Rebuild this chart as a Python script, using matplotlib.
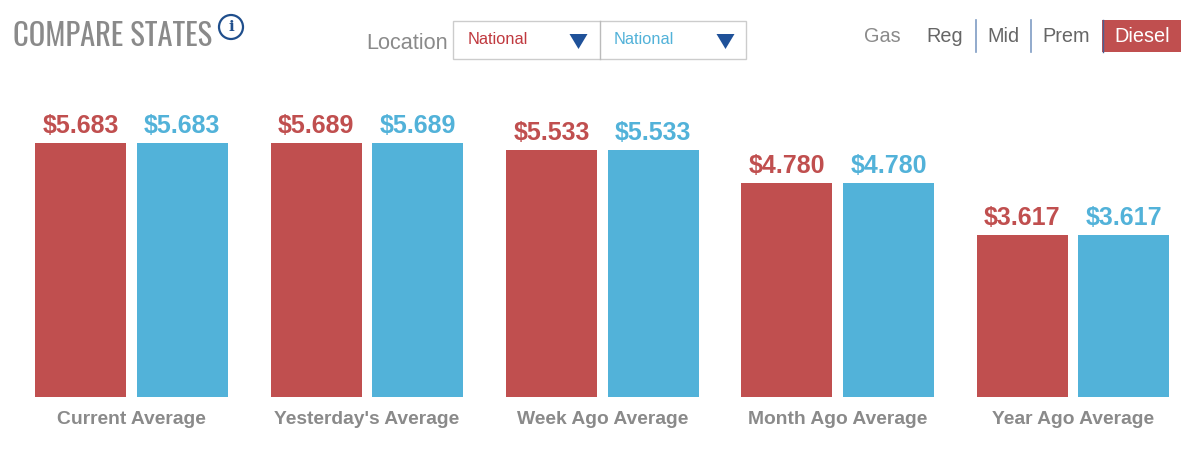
import numpy as np
import matplotlib.pyplot as plt
from matplotlib.patches import Rectangle, Polygon, Circle

plt.rcParams['font.family'] = ['Liberation Sans', 'DejaVu Sans']

categories = ["Current Average", "Yesterday's Average", "Week Ago Average", "Month Ago Average", "Year Ago Average"]
left_values = [5.683, 5.689, 5.533, 4.780, 3.617]
right_values = [5.683, 5.689, 5.533, 4.780, 3.617]
fuel_labels = ["Gas", "Reg", "Mid", "Prem", "Diesel"]

RED = "#C04F4F"
BLUE = "#52B2D9"
GREY = "#8A8A8A"
NAVY = "#1F5199"

fig = plt.figure(figsize=(12, 4.74), dpi=100, facecolor="white")

# bars, baseline sits at y=397px in the picture
ax = fig.add_axes([0, (474 - 397) / 474, 1, 397 / 474])
x = np.arange(len(categories))
w = 91 / 235.4
off = 50.8 / 235.4
ax.bar(x - off, left_values, w, color=RED)
ax.bar(x + off, right_values, w, color=BLUE)
ax.set_xlim(-131.5 / 235.4, (1200 - 131.5) / 235.4)
ax.set_ylim(0, 397 / 44.7)
ax.axis("off")

for i in x:
    ax.annotate(f"${left_values[i]:.3f}", (i - off, left_values[i]), xytext=(0, 3.5), textcoords="offset points",
                ha="center", va="bottom", color=RED, fontsize=18, fontweight="bold")
    ax.annotate(f"${right_values[i]:.3f}", (i + off, right_values[i]), xytext=(0, 3.5), textcoords="offset points",
                ha="center", va="bottom", color=BLUE, fontsize=18, fontweight="bold")
    ax.annotate(categories[i], (i, 0), xytext=(0, -10), textcoords="offset points",
                ha="center", va="top", color=GREY, fontsize=13.9, fontweight="bold")

# header widgets drawn in pixel coordinates
ui = fig.add_axes([0, 0, 1, 1])
ui.set_xlim(0, 1200)
ui.set_ylim(474, 0)
ui.axis("off")
ui.patch.set_alpha(0)

ui.text(13, 46, "COMPARE STATES", color=GREY, fontsize=22, family=["Oswald", "Antonio", "Liberation Sans"],
        ha="left", va="baseline")
ui.add_patch(Circle((231, 27), 12, fill=False, ec="#1F4E8C", lw=1.6))
ui.text(231, 27, "i", color="#1F4E8C", fontsize=11, fontweight="bold", family="DejaVu Serif", ha="center", va="center")

ui.text(366, 43, "Location", color=GREY, fontsize=15.6, ha="left", va="center")
ui.add_patch(Rectangle((453, 20.5), 293, 38.5, fc="white", ec="#CCCCCC", lw=1))
ui.plot([600, 600], [20.5, 59], color="#BBBBBB", lw=1)
ui.text(468, 39, "National", color="#C0393F", fontsize=11.8, ha="left", va="center")
ui.text(614, 39, "National", color=BLUE, fontsize=11.8, ha="left", va="center")
for tx in (578.5, 725.5):
    ui.add_patch(Polygon([(tx - 9, 34), (tx + 9, 34), (tx, 49)], closed=True, fc=NAVY, ec="none"))

ui.add_patch(Rectangle((1102, 20), 79, 32, fc=RED, ec="none"))
ui.plot([1103, 1103], [20, 52], color="#4A5F94", lw=1)
ui.plot([975.5, 975.5], [20, 52], color="#7F9CC4", lw=1.2)
ui.plot([1031, 1031], [20, 52], color="#7F9CC4", lw=1.2)
fuel_x = [882, 945, 1003, 1066, 1142]
fuel_col = [GREY, "#666666", "#666666", "#666666", "white"]
for lab, fx, col in zip(fuel_labels, fuel_x, fuel_col):
    ui.text(fx, 36, lab, color=col, fontsize=14.3, ha="center", va="center")

fig.savefig("out.png", dpi=100)
